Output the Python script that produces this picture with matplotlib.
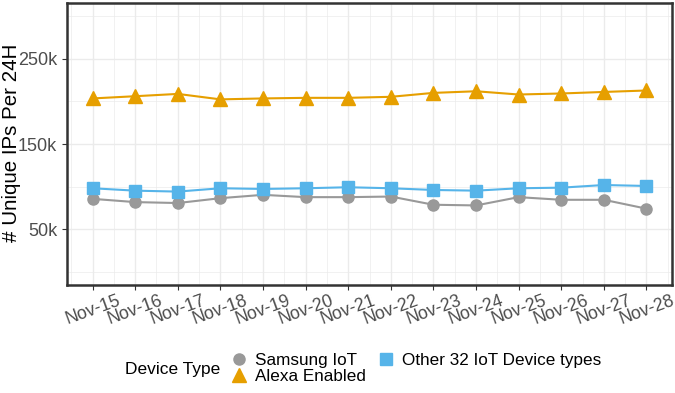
import matplotlib
matplotlib.use("Agg")
import matplotlib.pyplot as plt
from matplotlib.lines import Line2D
from matplotlib.ticker import FuncFormatter

plt.rcParams['font.family'] = ['Liberation Sans', 'DejaVu Sans']

# ======================
# DATA
# ======================
days = ["Nov-15", "Nov-16", "Nov-17", "Nov-18", "Nov-19", "Nov-20", "Nov-21",
        "Nov-22", "Nov-23", "Nov-24", "Nov-25", "Nov-26", "Nov-27", "Nov-28"]
samsung = [85800, 82000, 80900, 86600, 90500, 87800, 87800,
           88500, 78900, 78100, 87800, 84700, 84700, 74300]
alexa = [203400, 206000, 208700, 202300, 203400, 204100, 204100,
         205300, 209900, 211800, 208000, 209200, 211000, 212700]
other = [98200, 95400, 94300, 98200, 97400, 98200, 99400,
         98200, 96200, 95400, 98200, 98900, 102000, 100900]

C_GRAY = "#999999"
C_ORANGE = "#E69F00"
C_BLUE = "#56B4E9"

# ======================
# PLOT
# ======================
fig = plt.figure(figsize=(6.75, 3.93), dpi=100)
ax = fig.add_axes([0.0993, 0.275, 0.8963, 0.717])

x = list(range(len(days)))
ax.plot(x, samsung, color=C_GRAY, lw=1.5, marker="o", ms=8, zorder=3)
ax.plot(x, alexa, color=C_ORANGE, lw=1.5, marker="^", ms=10, zorder=3)
ax.plot(x, other, color=C_BLUE, lw=1.5, marker="s", ms=8, zorder=3)

ax.set_xlim(-0.6, len(days) - 1 + 0.6)
ax.set_ylim(-15000, 315000)

ax.set_yticks([50000, 150000, 250000])
ax.set_yticks([0, 100000, 200000, 300000], minor=True)
ax.yaxis.set_major_formatter(FuncFormatter(lambda v, p: f"{int(v/1000)}k"))
ax.set_xticks(x)
ax.set_xticks([i - 0.5 for i in range(len(days) + 1)], minor=True)
ax.set_xticklabels(days, rotation=20, ha="center", color="#4d4d4d", fontsize=12.8)
ax.tick_params(axis="y", labelsize=13, labelcolor="#4d4d4d")
ax.tick_params(which="major", length=3.5, color="#333333", width=0.8)
ax.tick_params(axis="x", pad=1.5)
ax.tick_params(which="minor", length=0)

ax.grid(which="major", color="#ebebeb", lw=1.0)
ax.grid(which="minor", color="#ebebeb", lw=0.5)
ax.set_axisbelow(True)
for s in ax.spines.values():
    s.set_color("#333333")
    s.set_linewidth(1.8)

fig.text(0.017, 0.636, "# Unique IPs Per 24H", fontsize=14.8, rotation=90,
         ha="center", va="center")

# legend: markers only, title to the left
handles = [
    Line2D([], [], ls="none", marker="o", ms=8, color=C_GRAY, label="Samsung IoT"),
    Line2D([], [], ls="none", marker="^", ms=10, color=C_ORANGE, label="Alexa Enabled"),
    Line2D([], [], ls="none", marker="s", ms=8, color=C_BLUE, label="Other 32 IoT Device types"),
]
fig.text(0.185, 0.061, "Device Type", fontsize=12.5, va="center", ha="left")
fig.legend(handles=handles, ncol=2, loc="center left",
           bbox_to_anchor=(0.331, 0.062), frameon=False, fontsize=12.3,
           handlelength=0.8, handletextpad=0.55, columnspacing=0.75,
           labelspacing=0.05, borderpad=0)

fig.savefig("out.png", dpi=100)
